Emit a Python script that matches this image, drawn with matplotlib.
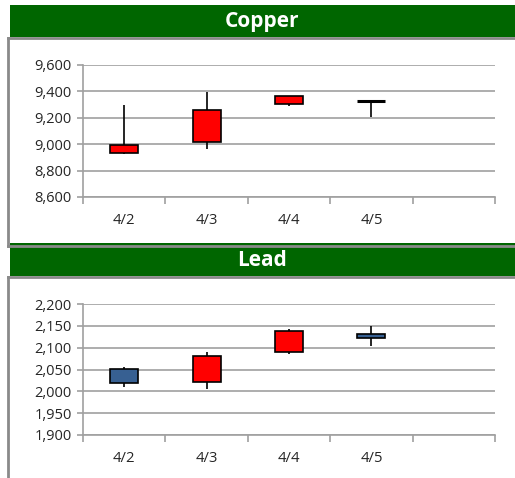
import matplotlib
matplotlib.use("Agg")
import matplotlib.pyplot as plt
from matplotlib.patches import Rectangle
from matplotlib.lines import Line2D
import numpy as np

plt.rcParams['font.family'] = ['Open Sans', 'DejaVu Sans']

dates = ["4/2", "4/3", "4/4", "4/5"]
n_slots = 5

copper_open = [8935, 9018, 9303, 9328]
copper_close = [8992, 9258, 9362, 9328]
copper_high = [9296, 9395, 9362, 9328]
copper_low = [8923, 8967, 9290, 9207]
copper_ticks = [8600, 8800, 9000, 9200, 9400, 9600]

lead_open = [2051, 2022, 2090, 2132]
lead_close = [2020, 2082, 2139, 2123]
lead_high = [2055, 2090, 2143, 2150]
lead_low = [2011, 2006, 2086, 2103]
lead_ticks = [1900, 1950, 2000, 2050, 2100, 2150, 2200]

W, H = 515, 478
fig = plt.figure(figsize=(W / 100, H / 100), dpi=100)

GREEN = "#006600"
BORDER = "#8a8a8a"
GRID = "#a0a0a0"
UP = "#ff0000"
DOWN = "#376092"
TXT = "#262626"


def fx(x):
    return x / W


def fy(y):
    return 1 - y / H


def rect(x0, y0, x1, y1, color):
    fig.patches.append(Rectangle((fx(x0), fy(y1)), fx(x1) - fx(x0), fy(y0) - fy(y1),
                                 transform=fig.transFigure, facecolor=color,
                                 edgecolor="none", zorder=1))


def line(xs, ys, color=BORDER, lw=2.0):
    fig.lines.append(Line2D([fx(x) for x in xs], [fy(y) for y in ys],
                            transform=fig.transFigure, color=color, lw=lw, zorder=3))


# headers
rect(10, 5, 515, 37, GREEN)
fig.text(fx(262), fy(21), "Copper", color="white", fontsize=15, fontweight="bold",
         ha="center", va="center")
rect(10, 243, 515, 276, GREEN)
fig.text(fx(262), fy(261), "Lead", color="white", fontsize=15, fontweight="bold",
         ha="center", va="center")

# panel borders
line([8, 515], [38, 38])
line([8, 8], [38, 246])
line([8, 515], [246, 246])
line([8, 515], [276.5, 276.5])
line([8, 8], [276.5, 478])


def candle_axes(top, bottom, opens, closes, highs, lows, ticks):
    ax = fig.add_axes([fx(83), fy(bottom), fx(495) - fx(83), fy(top) - fy(bottom)])
    x = np.arange(len(dates))
    o = np.array(opens, float)
    c = np.array(closes, float)
    hi = np.array(highs, float)
    lo = np.array(lows, float)
    ax.vlines(x, lo, hi, color="black", lw=1.2, zorder=3)
    cols = [UP if cc > oo else DOWN for oo, cc in zip(o, c)]
    body_lo = np.minimum(o, c)
    body_h = np.abs(c - o)
    for xi, b, h, col in zip(x, body_lo, body_h, cols):
        if h == 0:
            ax.hlines(b, xi - 0.17, xi + 0.17, color="black", lw=2.2, zorder=4)
        else:
            ax.bar(xi, h, bottom=b, width=0.34, color=col, edgecolor="black",
                   lw=1.2, zorder=4)
    ax.set_xlim(-0.5, n_slots - 0.5)
    ax.set_ylim(ticks[0], ticks[-1])
    ax.set_yticks(ticks)
    ax.set_yticklabels([f"{t:,}" for t in ticks])
    ax.set_xticks(np.arange(n_slots + 1) - 0.5)
    ax.set_xticklabels([])
    ax.set_xticks(x, minor=True)
    ax.set_xticklabels(dates, minor=True)
    ax.tick_params(axis="x", which="major", length=5, width=1.2, color=GRID, direction="out")
    ax.tick_params(axis="x", which="minor", length=0, pad=11.5, labelsize=10.7, labelcolor=TXT)
    ax.tick_params(axis="y", length=4, width=1.2, color=GRID, pad=4, labelsize=10.5,
                   labelcolor=TXT)
    ax.grid(axis="y", color=GRID, lw=1.2, zorder=0)
    for s in ["top", "right"]:
        ax.spines[s].set_visible(False)
    ax.spines["left"].set_color(GRID)
    ax.spines["left"].set_linewidth(1.2)
    ax.spines["bottom"].set_color(GRID)
    ax.spines["bottom"].set_linewidth(1.2)
    ax.set_facecolor("none")
    ax.set_axisbelow(True)
    return ax


candle_axes(65, 197, copper_open, copper_close, copper_high, copper_low, copper_ticks)
candle_axes(304, 435, lead_open, lead_close, lead_high, lead_low, lead_ticks)

fig.savefig("out.png", dpi=100)
